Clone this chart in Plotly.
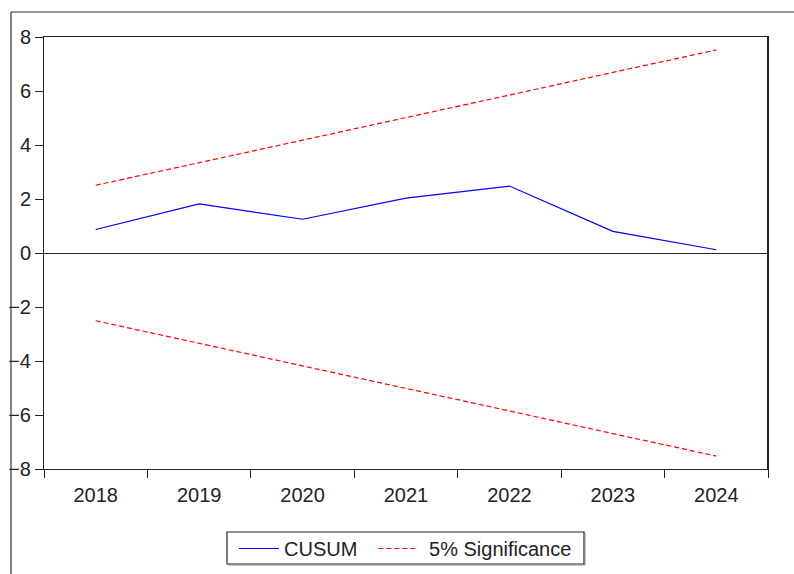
import plotly.graph_objects as go

# CUSUM test with 5% significance bounds
years = ["2018", "2019", "2020", "2021", "2022", "2023", "2024"]
cusum = [0.87, 1.82, 1.25, 2.03, 2.48, 0.80, 0.12]
upper_bound = [2.51, 3.34, 4.18, 5.02, 5.85, 6.69, 7.52]
lower_bound = [-2.51, -3.34, -4.18, -5.02, -5.85, -6.69, -7.52]

W, H = 794, 574
L, R, T, B = 44, 768, 37, 469
FONT = "Liberation Sans, Arial, sans-serif"
INK = "#222222"

fig = go.Figure()
fig.add_trace(go.Scatter(
    x=years, y=cusum, mode="lines", name="CUSUM\u00a0\u00a0",
    line=dict(color="#0000ff", width=1.2),
))
fig.add_trace(go.Scatter(
    x=years, y=upper_bound, mode="lines", name="\u00a05% Significance",
    line=dict(color="#ff0000", width=1.2, dash="5px,3px"),
))
fig.add_trace(go.Scatter(
    x=years, y=lower_bound, mode="lines", name="5% Significance",
    showlegend=False,
    line=dict(color="#ff0000", width=1.2, dash="5px,3px"),
))

pw, ph = R - L, B - T

def px_x(v):
    return (v - L) / pw

def px_y(v):
    return (B - v) / ph

shapes = [
    # outer frame (top and left edges)
    dict(type="line", xref="paper", yref="paper",
         x0=px_x(11), x1=px_x(W + 5), y0=px_y(12), y1=px_y(12),
         line=dict(color="#333333", width=1.2)),
    dict(type="line", xref="paper", yref="paper",
         x0=px_x(11), x1=px_x(11), y0=px_y(12), y1=px_y(H + 5),
         line=dict(color="#333333", width=1.2)),
    # heavier right edge of the plot box
    dict(type="line", xref="paper", yref="paper",
         x0=1, x1=1, y0=0, y1=1,
         line=dict(color=INK, width=2)),
    # legend frame with a slight shadow on the lower/right sides
    dict(type="rect", xref="paper", yref="paper", layer="below",
         x0=px_x(227), x1=px_x(584), y0=px_y(532), y1=px_y(564),
         line=dict(color=INK, width=1.2), fillcolor="white"),
    dict(type="line", xref="paper", yref="paper", layer="below",
         x0=px_x(228), x1=px_x(585), y0=px_y(565), y1=px_y(565),
         line=dict(color="#888888", width=1)),
    dict(type="line", xref="paper", yref="paper", layer="below",
         x0=px_x(585), x1=px_x(585), y0=px_y(533), y1=px_y(565),
         line=dict(color="#888888", width=1)),
]

fig.update_layout(
    width=W, height=H,
    margin=dict(l=L, r=W - R, t=T, b=H - B, autoexpand=False),
    paper_bgcolor="white", plot_bgcolor="white",
    font=dict(family=FONT, size=20, color=INK),
    showlegend=True,
    legend=dict(
        orientation="h", x=px_x(233), xanchor="left",
        y=px_y(528), yanchor="top",
        borderwidth=1, bordercolor="rgba(0,0,0,0)", bgcolor="rgba(0,0,0,0)",
        font=dict(family=FONT, size=20, color=INK),
        itemwidth=40, tracegroupgap=0,
    ),
    shapes=shapes,
    xaxis=dict(
        type="category", range=[-0.5, 6.5], automargin=False,
        tickson="boundaries", ticks="outside", ticklen=8,
        tickcolor=INK, tickwidth=1, ticklabelstandoff=8,
        showline=True, linecolor=INK, linewidth=1, mirror=True,
        showgrid=False, zeroline=False,
        tickfont=dict(family=FONT, size=20, color=INK),
    ),
    yaxis=dict(
        range=[-8, 8], dtick=2, tick0=0, automargin=False,
        ticks="outside", ticklen=8, tickcolor=INK, tickwidth=1,
        ticklabelstandoff=0,
        showline=True, linecolor=INK, linewidth=1, mirror=True,
        showgrid=False,
        zeroline=True, zerolinecolor=INK, zerolinewidth=1,
        tickfont=dict(family=FONT, size=20, color=INK),
    ),
)

fig.write_html("out.html")
